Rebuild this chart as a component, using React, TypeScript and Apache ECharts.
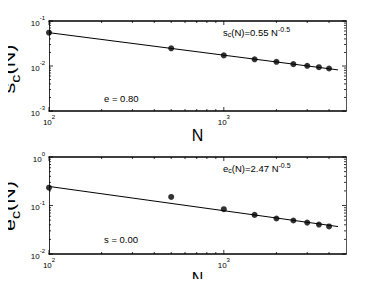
import React, { useEffect, useRef } from "react";
import * as echarts from "echarts";

const N = [100, 500, 1000, 1500, 2000, 2500, 3000, 3500, 4000];
const sc = [0.055, 0.0247, 0.0172, 0.0141, 0.0124, 0.011, 0.0101, 0.0094, 0.0088];
const ec = [0.233, 0.15, 0.084, 0.064, 0.054, 0.049, 0.0444, 0.0404, 0.037];
const fitN = [100, 4500];
const scFit = [0.055, 0.0082];
const ecFit = [0.247, 0.0368];

const xMajorTicks = [100, 1000];
const xMinorTicks = [200, 300, 400, 500, 600, 700, 800, 900, 2000, 3000, 4000];
const scMajorTicks = [0.001, 0.01, 0.1];
const scMinorTicks = [0.002, 0.003, 0.004, 0.005, 0.006, 0.007, 0.008, 0.009, 0.02, 0.03, 0.04, 0.05, 0.06, 0.07, 0.08, 0.09];
const ecMajorTicks = [0.01, 0.1, 1];
const ecMinorTicks = [0.02, 0.03, 0.04, 0.05, 0.06, 0.07, 0.08, 0.09, 0.2, 0.3, 0.4, 0.5, 0.6, 0.7, 0.8, 0.9];

const X_MIN = 100;
const X_MAX = 5000;
const SC_MIN = 0.001;
const SC_MAX = 0.1;
const EC_MIN = 0.01;
const EC_MAX = 1;

const FONT = "Liberation Sans, Arial, Helvetica, sans-serif";

const richLabel = {
  b: { fontSize: 8, lineHeight: 12, verticalAlign: "bottom", color: "#000", fontFamily: FONT },
  s: { fontSize: 6, lineHeight: 6, verticalAlign: "top", color: "#000", fontFamily: FONT },
};

const powLabel = (v: number) => {
  const e = Math.round(Math.log10(v));
  return `{b|10}{s|${e}}`;
};

function tickSeries(gridIdx: number, axis: "x" | "y", ticks: number[], len: number, yMin: number, yMax: number) {
  return {
    type: "custom",
    xAxisIndex: gridIdx * 2,
    yAxisIndex: gridIdx * 2,
    silent: true,
    z: 5,
    data: ticks.map((t) => (axis === "x" ? [t, yMin] : [X_MIN, t])),
    renderItem: (params: any, api: any) => {
      const v = api.value(axis === "x" ? 0 : 1);
      const style = { stroke: "#000", lineWidth: 0.8 };
      if (axis === "x") {
        const b = api.coord([v, yMin]);
        const t = api.coord([v, yMax]);
        return {
          type: "group",
          children: [
            { type: "line", shape: { x1: b[0], y1: b[1], x2: b[0], y2: b[1] - len }, style },
            { type: "line", shape: { x1: t[0], y1: t[1], x2: t[0], y2: t[1] + len }, style },
          ],
        };
      }
      const l = api.coord([X_MIN, v]);
      const r = api.coord([X_MAX, v]);
      return {
        type: "group",
        children: [
          { type: "line", shape: { x1: l[0], y1: l[1], x2: l[0] + len, y2: l[1] }, style },
          { type: "line", shape: { x1: r[0], y1: r[1], x2: r[0] - len, y2: r[1] }, style },
        ],
      };
    },
  };
}

const nameRich = {
  m: { fontSize: 16, fontFamily: FONT, fill: "#000", lineHeight: 20, verticalAlign: "top" },
  c: { fontSize: 12, fontFamily: FONT, fill: "#000", lineHeight: 10, verticalAlign: "bottom" },
};

const annRich = {
  m: { fontSize: 9.5, fontFamily: FONT, fill: "#000", lineHeight: 12, verticalAlign: "middle" },
  c: { fontSize: 7, fontFamily: FONT, fill: "#000", lineHeight: 7, verticalAlign: "bottom" },
  s: { fontSize: 7, fontFamily: FONT, fill: "#000", lineHeight: 7, verticalAlign: "top" },
};

const yTitle = (main: string, x: number, y: number) => ({
  type: "text",
  x,
  y,
  rotation: Math.PI / 2,
  scaleX: 1.35,
  scaleY: 1,
  style: {
    text: `{m|${main}}{c|c}{m|(N)}`,
    rich: nameRich,
    align: "center",
    verticalAlign: "middle",
  },
});

export default function App() {
  const ref = useRef<HTMLDivElement>(null);
  useEffect(() => {
    if (!ref.current) return;
    const chart = echarts.init(ref.current, undefined, { renderer: "svg" });
    const grids = [
      { left: 49, top: 21, width: 297, height: 90, containLabel: false, outerBoundsMode: "none" },
      { left: 49, top: 157, width: 297, height: 97, containLabel: false, outerBoundsMode: "none" },
    ];
    const xAxes: any[] = [];
    const yAxes: any[] = [];
    const yRanges = [
      [SC_MIN, SC_MAX],
      [EC_MIN, EC_MAX],
    ];
    [0, 1].forEach((g) => {
      xAxes.push({
        type: "log",
        logBase: 10,
        gridIndex: g,
        min: X_MIN,
        max: X_MAX,
        position: "bottom",
        name: "N",
        nameLocation: "middle",
        nameGap: 17,
        nameMoveOverlap: false,
        nameTextStyle: { fontSize: 16, lineHeight: 15, fontFamily: FONT, color: "#000" },
        axisLine: { show: true, lineStyle: { color: "#000", width: 1.5 } },
        axisTick: { show: false },
        splitLine: { show: false },
        axisLabel: { formatter: powLabel, rich: richLabel, margin: 3, showMaxLabel: false },
      });
      xAxes.push({
        type: "log",
        logBase: 10,
        gridIndex: g,
        min: X_MIN,
        max: X_MAX,
        position: "top",
        axisLine: { show: true, lineStyle: { color: "#000", width: 1.5 } },
        axisTick: { show: false },
        splitLine: { show: false },
        axisLabel: { show: false },
      });
      yAxes.push({
        type: "log",
        logBase: 10,
        gridIndex: g,
        min: yRanges[g][0],
        max: yRanges[g][1],
        position: "left",
        axisLine: { show: true, lineStyle: { color: "#333", width: 1 } },
        axisTick: { show: false },
        splitLine: { show: false },
        axisLabel: { formatter: powLabel, rich: richLabel, margin: 4 },
      });
      yAxes.push({
        type: "log",
        logBase: 10,
        gridIndex: g,
        min: yRanges[g][0],
        max: yRanges[g][1],
        position: "right",
        axisLine: { show: true, lineStyle: { color: "#555", width: 1 } },
        axisTick: { show: false },
        splitLine: { show: false },
        axisLabel: { show: false },
      });
    });

    const pts = (ys: number[]) => N.map((n, i) => [n, ys[i]]);
    const fit = (ys: number[]) => fitN.map((n, i) => [n, ys[i]]);

    const option: any = {
      animation: false,
      backgroundColor: "#fff",
      grid: grids,
      xAxis: xAxes,
      yAxis: yAxes,
      series: [
        { type: "line", xAxisIndex: 0, yAxisIndex: 0, data: fit(scFit), showSymbol: false, symbol: "none", lineStyle: { color: "#000", width: 1 }, z: 3 },
        { type: "scatter", xAxisIndex: 0, yAxisIndex: 0, data: pts(sc), symbolSize: 6, itemStyle: { color: "#000" }, z: 4 },
        { type: "line", xAxisIndex: 2, yAxisIndex: 2, data: fit(ecFit), showSymbol: false, symbol: "none", lineStyle: { color: "#000", width: 1 }, z: 3 },
        { type: "scatter", xAxisIndex: 2, yAxisIndex: 2, data: pts(ec), symbolSize: 6, itemStyle: { color: "#000" }, z: 4 },
        tickSeries(0, "x", xMajorTicks, 4, SC_MIN, SC_MAX),
        tickSeries(0, "x", xMinorTicks, 2, SC_MIN, SC_MAX),
        tickSeries(0, "y", scMajorTicks, 4, SC_MIN, SC_MAX),
        tickSeries(0, "y", scMinorTicks, 2, SC_MIN, SC_MAX),
        tickSeries(1, "x", xMajorTicks, 4, EC_MIN, EC_MAX),
        tickSeries(1, "x", xMinorTicks, 2, EC_MIN, EC_MAX),
        tickSeries(1, "y", ecMajorTicks, 4, EC_MIN, EC_MAX),
        tickSeries(1, "y", ecMinorTicks, 2, EC_MIN, EC_MAX),
      ],
      graphic: [
        yTitle("s", 12, 69),
        yTitle("e", 12, 206),
        { type: "text", left: 223, top: 26, style: { text: "{m|s}{c|c}{m|(N)=0.55 N}{s|-0.5}", rich: annRich } },
        { type: "text", left: 104, top: 93, style: { text: "e = 0.80", fontSize: 9.5, fontFamily: FONT, fill: "#000" } },
        { type: "text", left: 223, top: 162, style: { text: "{m|e}{c|c}{m|(N)=2.47 N}{s|-0.5}", rich: annRich } },
        { type: "text", left: 104, top: 234, style: { text: "s = 0.00", fontSize: 9.5, fontFamily: FONT, fill: "#000" } },
      ],
    };
    chart.setOption(option);
    return () => chart.dispose();
  }, []);
  return <div ref={ref} style={{ width: 382, height: 287, margin: -8 }} />;
}
